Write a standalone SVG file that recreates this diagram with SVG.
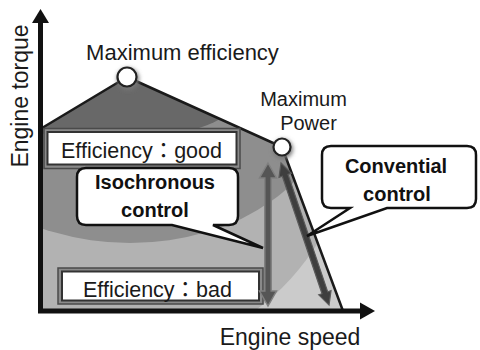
<svg xmlns="http://www.w3.org/2000/svg" width="480" height="350" viewBox="0 0 480 350">
  <style>
    .lbl { font-family: "Liberation Sans", "Noto Sans CJK JP", sans-serif; fill: #1a1a1a; }
    .bold { font-family: "Liberation Sans", sans-serif; font-weight: bold; fill: #111; }
    .callout { fill: #ffffff; stroke: #111; stroke-width: 2.5; stroke-linejoin: miter; }
    .frame { fill: #8a8a8a; stroke: #4a4a4a; stroke-width: 1.5; }
    .inner { fill: #ffffff; stroke: #333; stroke-width: 2; }
    .pt { fill: #ffffff; stroke: #222; stroke-width: 2.2; }
    .axis { fill: none; stroke: #111; stroke-width: 5; stroke-linejoin: miter; }
  </style>
  <defs>
    <clipPath id="bodyClip">
      <polygon points="42,128 127,77 282,147 343,310 42,310"/>
    </clipPath>
    <filter id="glow" x="-50%" y="-50%" width="200%" height="200%">
      <feGaussianBlur stdDeviation="2.2"/>
    </filter>
  </defs>

  <!-- operating region with efficiency contours -->
  <g id="region">
    <polygon points="42,128 127,77 282,147 343,310 42,310" fill="#cbcbcb"/>
    <g clip-path="url(#bodyClip)">
      <ellipse cx="130" cy="100" rx="228" ry="252" fill="#b2b2b2"/>
      <ellipse cx="130" cy="100" rx="200" ry="143" fill="#8e8e8e"/>
      <ellipse cx="110" cy="100" rx="125" ry="40" fill="#686868"/>
    </g>
    <polyline points="42,128 127,77 282,147 343,311" fill="none" stroke="#1a1a1a" stroke-width="2.5" stroke-linejoin="round"/>
  </g>

  <!-- efficiency boxes -->
  <g id="good-box">
    <rect class="frame" x="44" y="128.5" width="196" height="40"/>
    <rect class="inner" x="47.5" y="132" width="189" height="32.5"/>
    <text class="lbl" x="141.5" y="158" font-size="21.5" text-anchor="middle">Efficiency：good</text>
  </g>
  <g id="bad-box">
    <rect class="frame" x="58" y="268" width="205" height="36"/>
    <rect class="inner" x="62" y="271.5" width="197" height="29"/>
    <text class="lbl" x="157.5" y="297" font-size="21.5" text-anchor="middle">Efficiency：bad</text>
  </g>

  <!-- arrows -->
  <g id="connectors">
    <path id="iso-arrow" d="M268,163 L276.5,178 L271.2,178 L271.2,291 L276.5,291 L268,306 L259.5,291 L264.8,291 L264.8,178 L259.5,178 Z" fill="#555" stroke="#808080" stroke-width="1.5" stroke-linejoin="miter"/>
    <g transform="translate(281,163) rotate(-18.68)">
      <path id="conv-arrow" d="M0,0 L6.5,13 L3,13 L3,137 L6.5,137 L0,150 L-6.5,137 L-3,137 L-3,13 L-6.5,13 Z" fill="#3e3e3e" stroke="#5a5a5a" stroke-width="1.2"/>
    </g>
  </g>

  <!-- callouts -->
  <g id="isochronous-callout">
    <path class="callout" d="M86,168 H229 Q238,168 238,177 V216 Q238,225 229,225 H213 L263,248 L172,225 H86 Q77,225 77,216 V177 Q77,168 86,168 Z"/>
    <text class="bold" x="155" y="189" font-size="20" text-anchor="middle">Isochronous</text>
    <text class="bold" x="155" y="217" font-size="20" text-anchor="middle">control</text>
  </g>
  <g id="conventional-callout">
    <path class="callout" d="M331,146 H467 Q476,146 476,155 V199 Q476,208 467,208 H387 L307,236 L350,208 H331 Q322,208 322,199 V155 Q322,146 331,146 Z"/>
    <text class="bold" x="396" y="173" font-size="20" text-anchor="middle">Convential</text>
    <text class="bold" x="397" y="201" font-size="20" text-anchor="middle">control</text>
  </g>

  <!-- key points -->
  <g id="max-efficiency">
    <circle cx="128" cy="79" r="11" fill="#777" filter="url(#glow)"/>
    <circle class="pt" cx="127" cy="77" r="9.5"/>
    <text class="lbl" x="182.5" y="60" font-size="22" text-anchor="middle">Maximum efficiency</text>
  </g>
  <g id="max-power">
    <circle cx="283" cy="149" r="10" fill="#777" filter="url(#glow)"/>
    <circle class="pt" cx="282" cy="147" r="8.5"/>
    <text class="lbl" x="303.5" y="106" font-size="20" text-anchor="middle">Maximum</text>
    <text class="lbl" x="308.5" y="130" font-size="20" text-anchor="middle">Power</text>
  </g>

  <!-- axes -->
  <g id="axes">
    <path class="axis" d="M40.5,22 V311 H362"/>
    <polygon points="40.5,9 32,23 49,23" fill="#111"/>
    <polygon points="375,311 360,302.5 360,319.5" fill="#111"/>
    <text class="lbl" font-size="23" text-anchor="middle" transform="translate(28,96) rotate(-90)">Engine torque</text>
    <text class="lbl" x="290" y="345" font-size="23" text-anchor="middle">Engine speed</text>
  </g>
</svg>
